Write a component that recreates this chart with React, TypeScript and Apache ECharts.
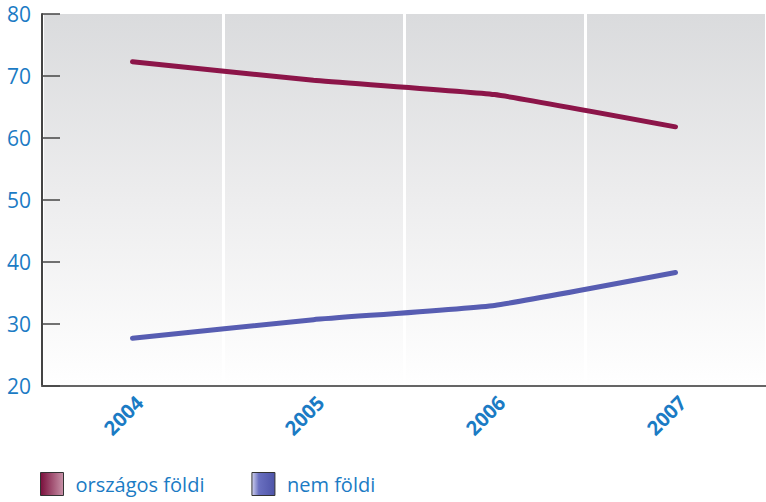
import React, { useEffect, useRef } from "react";
import * as echarts from "echarts";

const categories = ["2004", "2005", "2006", "2007"];
const orszagos = [72.3, 69.3, 67.0, 61.8];
const nemFoldi = [27.7, 30.7, 33.0, 38.3];
const seriesNames = ["országos földi", "nem földi"];

export default function App() {
  const ref = useRef<HTMLDivElement>(null);
  useEffect(() => {
    if (!ref.current) return;
    const chart = echarts.init(ref.current, undefined, { renderer: "svg" });
    const blue = "#1b7bc4";
    const font = "'Open Sans', 'Noto Sans', sans-serif";
    chart.setOption({
      animation: false,
      backgroundColor: "#ffffff",
      grid: {
        left: 42,
        top: 14,
        bottom: 116,
        right: -6,
        show: true,
        borderWidth: 0,
        backgroundColor: new echarts.graphic.LinearGradient(0, 0, 0, 1, [
          { offset: 0, color: "#dadbdd" },
          { offset: 0.5, color: "#ededee" },
          { offset: 1, color: "#ffffff" },
        ]),
      },
      legend: {
        left: 35,
        top: 467,
        itemWidth: 23,
        itemHeight: 23,
        itemGap: 47,
        icon: "rect",
        textStyle: { color: blue, fontSize: 20, fontFamily: font, padding: [0, 0, 0, 7] },
        data: [
          {
            name: seriesNames[0],
            itemStyle: {
              color: new echarts.graphic.LinearGradient(0, 0, 1, 0, [
                { offset: 0, color: "#7a0f3c" },
                { offset: 1, color: "#c892a8" },
              ]),
              borderColor: "#333",
              borderWidth: 1,
            },
          },
          {
            name: seriesNames[1],
            itemStyle: {
              color: new echarts.graphic.LinearGradient(0, 0, 1, 0, [
                { offset: 0, color: "#d0d1ee" },
                { offset: 0.3, color: "#6a70c0" },
                { offset: 1, color: "#4e54a8" },
              ]),
              borderColor: "#333",
              borderWidth: 1,
            },
          },
        ],
      },
      xAxis: {
        type: "category",
        data: categories,
        boundaryGap: true,
        axisLine: { show: true, lineStyle: { color: "#666", width: 2 } },
        axisTick: { show: false },
        splitLine: { show: true, lineStyle: { color: "#ffffff", width: 3 } },
        axisLabel: {
          rotate: 45,
          color: blue,
          fontSize: 20,
          fontWeight: "bold",
          fontFamily: font,
          margin: 6,
          verticalAlign: "top",
        },
      },
      yAxis: {
        type: "value",
        min: 20,
        max: 80,
        interval: 10,
        axisLine: { show: true, lineStyle: { color: "#444", width: 2 } },
        axisTick: { show: true, inside: true, length: 18, lineStyle: { color: "#444", width: 1.5 } },
        splitLine: { show: false },
        axisLabel: { color: blue, fontSize: 21, fontFamily: font, margin: 11 },
      },
      series: [
        {
          name: seriesNames[0],
          type: "line",
          data: orszagos,
          smooth: 0.12,
          symbol: "none",
          color: "#8c1549",
          lineStyle: { color: "#8c1549", width: 5, cap: "round" },
        },
        {
          name: seriesNames[1],
          type: "line",
          data: nemFoldi,
          smooth: 0.12,
          symbol: "none",
          color: "#575db2",
          lineStyle: { color: "#575db2", width: 5, cap: "round" },
        },
      ],
    });
    return () => chart.dispose();
  }, []);
  return (
    <div
      ref={ref}
      style={{ position: "fixed", left: 0, top: 0, width: 766, height: 502 }}
    />
  );
}
